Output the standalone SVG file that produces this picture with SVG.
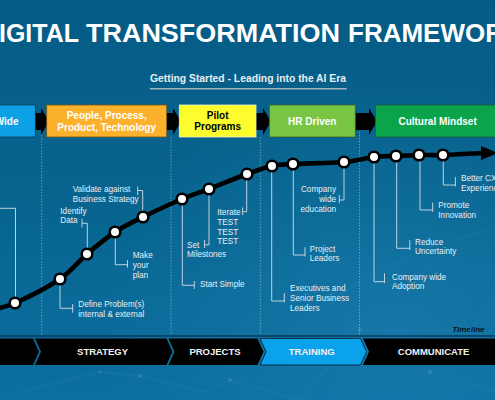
<svg xmlns="http://www.w3.org/2000/svg" width="495" height="400" viewBox="0 0 495 400">
<defs>
<linearGradient id="bgGrad" x1="0" y1="0" x2="0" y2="1">
<stop offset="0" stop-color="#055c86"/>
<stop offset="0.5" stop-color="#07648f"/>
<stop offset="1" stop-color="#0c6fa0"/>
</linearGradient>
<radialGradient id="glow" cx="0.8" cy="0.8" r="0.6">
<stop offset="0" stop-color="#2a8cc0" stop-opacity="0.35"/>
<stop offset="1" stop-color="#2a8cc0" stop-opacity="0"/>
</radialGradient>
<style>
.sans{font-family:'Liberation Sans',Arial,Helvetica,sans-serif}
.title{font-weight:bold;font-size:25.5px;fill:#ffffff}
.sub{font-weight:bold;font-size:10.3px;fill:#e8eef2}
.boxt{font-weight:bold;font-size:10px;fill:#ffffff;text-anchor:middle}
.lbl{font-size:8.2px;fill:#e8eff4}
.leader{fill:none;stroke:#d3dee6;stroke-width:0.9}
.dot{fill:#ffffff;stroke:#000000;stroke-width:2.6}
.curve{fill:none;stroke:#000000;stroke-width:4.6;stroke-linecap:round}
.barrow{fill:#000000}
.sep{stroke:#a9c0cf;stroke-width:0.8;stroke-dasharray:1.5 1.5;opacity:0.75}
.seg{fill:#000000}
.segt{font-weight:bold;font-size:9.5px;fill:#f2f2f2;text-anchor:middle}
.net{stroke:#7fc0e6;stroke-width:0.6;opacity:0.18;fill:none}
.netdot{fill:#8cc8ea;opacity:0.2}
</style>
</defs>

<rect x="0" y="0" width="495" height="400" fill="url(#bgGrad)"/>
<rect x="0" y="0" width="495" height="400" fill="url(#glow)"/>

<g id="background-network">
<path class="net" d="M330 300 L420 250 L495 228 M420 250 L470 330 L360 330 L330 300 M300 400 L360 330 M470 330 L495 300 M380 400 L430 372 L495 392 M430 372 L470 330 M100 400 L140 376 L205 392 M20 392 L100 372 L140 376 M230 380 L300 400 M205 392 L230 380"/>
<circle class="netdot" cx="420" cy="250" r="2"/>
<circle class="netdot" cx="470" cy="330" r="2.5"/>
<circle class="netdot" cx="360" cy="330" r="1.8"/>
<circle class="netdot" cx="430" cy="372" r="2"/>
<circle class="netdot" cx="140" cy="376" r="2"/>
<circle class="netdot" cx="100" cy="372" r="1.5"/>
<circle class="netdot" cx="230" cy="380" r="1.8"/>
</g>

<g id="title">
<text class="sans title" y="42"><tspan x="-1" textLength="80" lengthAdjust="spacingAndGlyphs">IGITAL</tspan><tspan x="86" textLength="254" lengthAdjust="spacingAndGlyphs">TRANSFORMATION</tspan><tspan x="348" textLength="156" lengthAdjust="spacingAndGlyphs">FRAMEWOR</tspan></text>
</g>

<g id="subtitle">
<text class="sans sub" x="150" y="82.3" textLength="196" lengthAdjust="spacingAndGlyphs">Getting Started - Leading into the AI Era</text>
<line x1="150" y1="88.7" x2="346.7" y2="88.7" stroke="#9fb3c2" stroke-width="1.5"/>
</g>

<g id="separators">
<line class="sep" x1="41.7" y1="132" x2="41.7" y2="335"/>
<line class="sep" x1="171" y1="137" x2="171" y2="335"/>
<line class="sep" x1="260.3" y1="137" x2="260.3" y2="335"/>
<line class="sep" x1="359.5" y1="132" x2="359.5" y2="335"/>
</g>

<g id="connectors">
<polygon class="barrow" points="34,113 41,113 41,108 49,121.5 41,135 41,130 34,130"/>
<polygon class="barrow" points="166,113 173,113 173,108 181,121.5 173,135 173,130 166,130"/>
<polygon class="barrow" points="255,113 263,113 263,108 271,121.5 263,135 263,130 255,130"/>
<polygon class="barrow" points="354,113 369,113 369,108 377,121.5 369,135 369,130 354,130"/>

<path class="curve" d="M-10 310 C-5.8 308.8 3.3 308.2 15 303 C26.7 297.8 48 287.2 60 279 C72 270.8 77.8 261.8 87 254 C96.2 246.2 105.7 238.2 115 232 C124.3 225.8 131.8 222.5 143 217 C154.2 211.5 171 203.7 182 199 C193 194.3 198.2 193.2 209 189 C219.8 184.8 236.5 177.8 247 174 C257.5 170.2 264.3 167.7 272 166 C279.7 164.3 281 164.7 293 164 C305 163.3 330.5 163.2 344 162 C357.5 160.8 365.3 158 374 157 C382.7 156 388.5 156.3 396 156 C403.5 155.7 411.2 155.2 419 155 C426.8 154.8 432.2 155.3 443 155 C453.8 154.7 477.2 153.3 484 153"/>
<polygon class="barrow" points="481,146 498,153 481,160"/>

<path class="leader" d="M-2 208.3 H15.5 V297"/>
<path class="leader" d="M87.3 248 V223.3 H82 M82 218.7 V227.5"/>
<path class="leader" d="M142.7 211 V190.5 H137.7 M137.7 186.5 V195"/>
<path class="leader" d="M115.3 238 V264.7 H127.5 M127.5 260 V267.5"/>
<path class="leader" d="M60 285 V308.3 H72.7 M72.7 304 V312.7"/>
<path class="leader" d="M182.3 205 V285.3 H194.3 M194.3 281 V289"/>
<path class="leader" d="M209 195 V244.8 H204.6 M204.6 240 V248"/>
<path class="leader" d="M246.7 180 V211.7 H242.6 M242.6 207.5 V215"/>
<path class="leader" d="M271.7 172 V301 H284.3 M284.3 293.3 V302.5"/>
<path class="leader" d="M293.3 170 V255 H305 M305 247.3 V256.5"/>
<path class="leader" d="M344 168 V200 H339.3 M339.3 195 V203"/>
<path class="leader" d="M374 163 V281.7 H384.5 M384.5 273.3 V283"/>
<path class="leader" d="M396.7 162 V248.3 H409.8 M409.8 240 V250"/>
<path class="leader" d="M420 161 V210 H432.7 M432.7 202.7 V211.7"/>
<path class="leader" d="M443.3 161 V185 H455.4 M455.4 177 V186.5"/>
</g>

<g id="box-wide">
<rect x="-5" y="105" width="40.3" height="32" fill="#0ea0e4" stroke="#063d5e" stroke-width="0.8"/>
<text class="sans boxt" x="18.5" y="124.6" style="text-anchor:end">Wide</text>
</g>
<g id="box-people">
<rect x="46.7" y="105" width="120" height="32" fill="#fbb12b" stroke="#7a5514" stroke-width="0.8"/>
<text class="sans boxt" x="106.7" y="118.6">People, Process,</text>
<text class="sans boxt" x="106.7" y="130.6">Product, Technology</text>
</g>
<g id="box-pilot">
<rect x="179.3" y="105" width="76.7" height="32" fill="#fdfd2d" stroke="#eef2c6" stroke-width="0.8"/>
<text class="sans boxt" x="217.7" y="118.6" style="fill:#000000">Pilot</text>
<text class="sans boxt" x="217.7" y="130.4" style="fill:#000000">Programs</text>
</g>
<g id="box-hr">
<rect x="269.3" y="105" width="86" height="32" fill="#78c544" stroke="#35622a" stroke-width="0.8"/>
<text class="sans boxt" x="312.3" y="124.6">HR Driven</text>
</g>
<g id="box-cultural">
<rect x="375.3" y="105" width="125" height="32" fill="#0ba44b" stroke="#1d5a33" stroke-width="0.8"/>
<text class="sans boxt" x="437.6" y="124.6">Cultural Mindset</text>
</g>

<g id="m-left"><circle class="dot" cx="15" cy="303" r="5.3"/></g>
<g id="m-define"><circle class="dot" cx="60" cy="279" r="5.3"/>
<text class="sans lbl" x="78.3" y="307.3">Define Problem(s)</text>
<text class="sans lbl" x="78.3" y="316.7">internal &amp; external</text></g>
<g id="m-identify"><circle class="dot" cx="87" cy="254" r="5.3"/>
<text class="sans lbl" x="60.3" y="214">Identify</text>
<text class="sans lbl" x="60.3" y="223.3">Data</text></g>
<g id="m-plan"><circle class="dot" cx="115" cy="232" r="5.3"/>
<text class="sans lbl" x="132.7" y="258">Make</text>
<text class="sans lbl" x="132.7" y="268">your</text>
<text class="sans lbl" x="132.7" y="278">plan</text></g>
<g id="m-validate"><circle class="dot" cx="143" cy="217" r="5.3"/>
<text class="sans lbl" x="72.7" y="192.3">Validate against</text>
<text class="sans lbl" x="72.7" y="202.3">Business Strategy</text></g>
<g id="m-start"><circle class="dot" cx="182" cy="199" r="5.3"/>
<text class="sans lbl" x="200" y="287.3">Start Simple</text></g>
<g id="m-milestones"><circle class="dot" cx="209" cy="189" r="5.3"/>
<text class="sans lbl" x="187" y="247.7">Set</text>
<text class="sans lbl" x="187" y="257.3">Milestones</text></g>
<g id="m-iterate"><circle class="dot" cx="247" cy="174" r="5.3"/>
<text class="sans lbl" x="217.3" y="215">Iterate</text>
<text class="sans lbl" x="217.3" y="224.7">TEST</text>
<text class="sans lbl" x="217.3" y="234.7">TEST</text>
<text class="sans lbl" x="217.3" y="244.3">TEST</text></g>
<g id="m-executives"><circle class="dot" cx="272" cy="166" r="5.3"/>
<text class="sans lbl" x="290" y="291">Executives and</text>
<text class="sans lbl" x="290" y="300.7">Senior Business</text>
<text class="sans lbl" x="290" y="310.7">Leaders</text></g>
<g id="m-project"><circle class="dot" cx="293" cy="164" r="5.3"/>
<text class="sans lbl" x="309.7" y="252">Project</text>
<text class="sans lbl" x="309.7" y="261.3">Leaders</text></g>
<g id="m-education"><circle class="dot" cx="344" cy="162" r="5.3"/>
<text class="sans lbl" x="336" y="192.3" text-anchor="end">Company</text>
<text class="sans lbl" x="336" y="202.3" text-anchor="end">wide</text>
<text class="sans lbl" x="336" y="212.3" text-anchor="end">education</text></g>
<g id="m-adoption"><circle class="dot" cx="374" cy="157" r="5.3"/>
<text class="sans lbl" x="392" y="279.7">Company wide</text>
<text class="sans lbl" x="392" y="289">Adoption</text></g>
<g id="m-reduce"><circle class="dot" cx="396" cy="156" r="5.3"/>
<text class="sans lbl" x="415" y="245">Reduce</text>
<text class="sans lbl" x="415" y="254.3">Uncertainty</text></g>
<g id="m-promote"><circle class="dot" cx="419" cy="155" r="5.3"/>
<text class="sans lbl" x="438.3" y="208.3">Promote</text>
<text class="sans lbl" x="438.3" y="218">Innovation</text></g>
<g id="m-cx"><circle class="dot" cx="443" cy="155" r="5.3"/>
<text class="sans lbl" x="461" y="181.3">Better CX</text>
<text class="sans lbl" x="461" y="191.3">Experienc</text></g>

<g id="timeline-label">
<text class="sans" x="484.5" y="331.8" text-anchor="end" font-size="8" font-weight="bold" font-style="italic" fill="#06141f">Timeline</text>
<line x1="0" y1="336" x2="495" y2="336" stroke="#073a5c" stroke-width="1.5"/>
</g>

<g id="seg-first"><polygon class="seg" points="-5,338.5 33,338.5 39,351.7 33,365 -5,365"/></g>
<g id="seg-strategy"><polygon class="seg" points="35,338.5 166.5,338.5 172.5,351.7 166.5,365 35,365 41,351.7"/>
<text class="sans segt" x="102.6" y="355.2">STRATEGY</text></g>
<g id="seg-projects"><polygon class="seg" points="168.5,338.5 257.5,338.5 263.5,351.7 257.5,365 168.5,365 174.5,351.7"/>
<text class="sans segt" x="215" y="355.2">PROJECTS</text></g>
<g id="seg-training"><polygon points="260,338.5 360.5,338.5 366.5,351.7 360.5,365 260,365 266,351.7" fill="#0aa2ea" stroke="#062f4a" stroke-width="1"/>
<text class="sans segt" x="311.7" y="355.2">TRAINING</text></g>
<g id="seg-communicate"><polygon class="seg" points="363,338.5 500,338.5 500,365 363,365 369,351.7"/>
<text class="sans segt" x="433.6" y="355.2">COMMUNICATE</text></g>
</svg>
